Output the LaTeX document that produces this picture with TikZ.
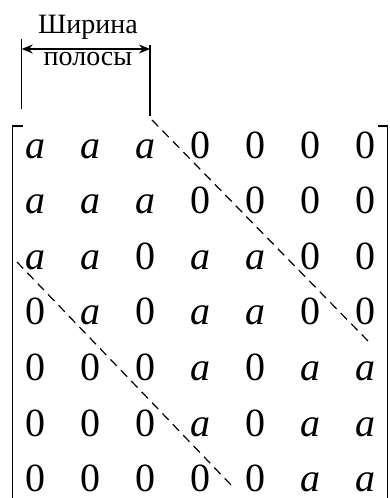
\documentclass[tikz,border=0pt]{standalone}
\usepackage{fontspec}
\setmainfont{Liberation Serif}
\newfontfamily\tmsfont{Liberation Serif}
\usetikzlibrary{arrows.meta}
\newcommand\ventry{\textit{a}}
\begin{document}
\begin{tikzpicture}[x=1pt,y=-1pt,
  entry/.style={anchor=base, inner sep=0pt, font=\tmsfont\fontsize{40}{40}\selectfont},
  lbl/.style={anchor=base, inner sep=0pt, font=\tmsfont\fontsize{28}{28}\selectfont},
  brk/.style={line width=1.4pt},
  tickline/.style={line width=1.4pt},
  dimarrow/.style={line width=1.6pt, {Stealth[length=11pt,width=9pt]}-{Stealth[length=11pt,width=9pt]}},
  band/.style={line width=1.2pt, dash pattern=on 9pt off 6pt}]
\useasboundingbox (0,0) rectangle (390,498);
% label
\node[lbl] (w1) at (88,33) {Ширина};
\node[lbl] (w2) at (88,65) {полосы};
\coordinate (L1) at (21.7,39);
\coordinate (L2) at (21.7,109);
\coordinate (R1) at (150,45);
\coordinate (R2) at (150,116);
\coordinate (A1) at (21.7,49);
\coordinate (A2) at (150,49);
\draw[tickline] (L1) -- (L2);
\draw[tickline] (R1) -- (R2);
\draw[dimarrow] (A1) -- (A2);
% brackets
\coordinate (bl1) at (23,126);
\coordinate (bl2) at (12.3,126);
\coordinate (bl3) at (12.3,500);
\coordinate (br1) at (378,126);
\coordinate (br2) at (387.3,126);
\coordinate (br3) at (387.3,500);
\draw[brk] (bl1) -- (bl2) -- (bl3);
\draw[brk] (br1) -- (br2) -- (br3);
% entries
\foreach \rowlist [count=\r] in {
  {\ventry,\ventry,\ventry,0,0,0,0},
  {\ventry,\ventry,\ventry,0,0,0,0},
  {\ventry,\ventry,0,\ventry,\ventry,0,0},
  {0,\ventry,0,\ventry,\ventry,0,0},
  {0,0,0,\ventry,0,\ventry,\ventry},
  {0,0,0,\ventry,0,\ventry,\ventry},
  {0,0,0,0,0,\ventry,\ventry}} {
  \foreach \v [count=\c] in \rowlist {
    \node[entry] (m-\r-\c) at ({35+55*(\c-1)},{158+55.6*(\r-1)}) {\v};
  }
}
% band boundaries
\coordinate (d1) at (152,120);
\coordinate (d2) at (370,343);
\coordinate (d3) at (17,262);
\coordinate (d4) at (233,487);
\draw[band] (d1) -- (d2);
\draw[band] (d3) -- (d4);
\end{tikzpicture}
\end{document}
